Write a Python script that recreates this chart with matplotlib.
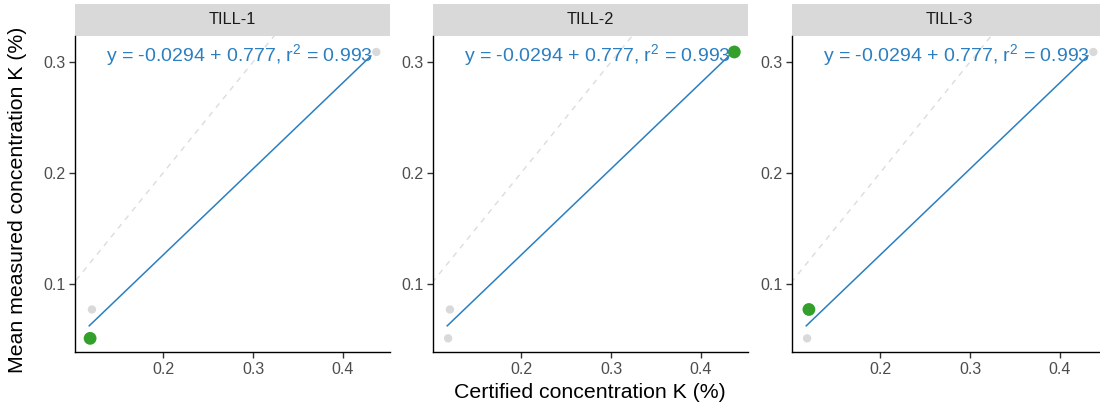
import matplotlib
matplotlib.use("Agg")
import matplotlib.pyplot as plt
from matplotlib.patches import Rectangle
import numpy as np

samples = ["TILL-1", "TILL-2", "TILL-3"]
certified = [0.119, 0.437, 0.121]
measured = [0.051, 0.309, 0.077]
fit_intercept = -0.0294
fit_slope = 0.777
fit_r2 = 0.993
fit_x_range = [0.118, 0.431]
x_ticks = [0.2, 0.3, 0.4]
y_ticks = [0.1, 0.2, 0.3]

plt.rcParams['font.family'] = ['Liberation Sans', 'DejaVu Sans']
plt.rcParams['mathtext.fontset'] = 'custom'
plt.rcParams['mathtext.rm'] = 'Liberation Sans'
plt.rcParams['mathtext.it'] = 'Liberation Sans:italic'

W, H = 1100, 407
fig = plt.figure(figsize=(W / 100, H / 100), dpi=100)

lefts = [75, 433, 792]
pw = 315
top, bottom = 36, 352
strip_h = 32

blue = "#2b7fc0"
green = "#33a02c"
grey_pt = "#d9d9d9"

xlim = (0.1022, 0.4522)
ylim = (0.0387, 0.3234)
label = f"y = {fit_intercept} + {fit_slope}, r$^2$ = {fit_r2}"

for i, s in enumerate(samples):
    ax = fig.add_axes([lefts[i] / W, 1 - bottom / H, pw / W, (bottom - top) / H])
    ax.set_xlim(*xlim)
    ax.set_ylim(*ylim)
    # identity line
    ax.plot([0, 1], [0, 1], ls=(0, (4, 4)), color="#dcdcdc", lw=1.0, zorder=1)
    # all points in grey
    ax.scatter(certified, measured, s=36, color=grey_pt, edgecolors='none', zorder=2)
    # regression line
    fx = np.array(fit_x_range)
    ax.plot(fx, fit_intercept + fit_slope * fx, color=blue, lw=1.1, zorder=3)
    # highlighted sample
    ax.scatter([certified[i]], [measured[i]], s=85, color=green, edgecolors='none', zorder=4)
    ax.text(0.285, 0.3065, label, color=blue, fontsize=14, ha='center', va='center', zorder=5)

    for sp in ['top', 'right']:
        ax.spines[sp].set_visible(False)
    for sp in ['left', 'bottom']:
        ax.spines[sp].set_linewidth(1.0)
        ax.spines[sp].set_color('black')
    ax.set_xticks(x_ticks)
    ax.set_yticks(y_ticks)
    ax.set_xticklabels([f"{v:.1f}" for v in x_ticks])
    ax.set_yticklabels([f"{v:.1f}" for v in y_ticks])
    ax.tick_params(axis='both', length=4, width=1, color='#333333', labelcolor='#4d4d4d',
                   labelsize=11.5, pad=3)

    # strip
    sh = strip_h / (bottom - top)
    ax.add_patch(Rectangle((0, 1), 1, sh, transform=ax.transAxes, facecolor="#d9d9d9",
                           edgecolor='none', clip_on=False))
    ax.text(0.5, 1 + sh / 2, s, transform=ax.transAxes, ha='center', va='center',
            fontsize=11.8, color='#1a1a1a')

fig.text(18 / W, 1 - 200 / H, "Mean measured concentration K (%)", rotation=90,
         ha='center', va='center', fontsize=15.3, color='black')
fig.text(590 / W, 1 - 393 / H, "Certified concentration K (%)", ha='center', va='center',
         fontsize=15.3, color='black')

fig.savefig("out.png", dpi=100)
